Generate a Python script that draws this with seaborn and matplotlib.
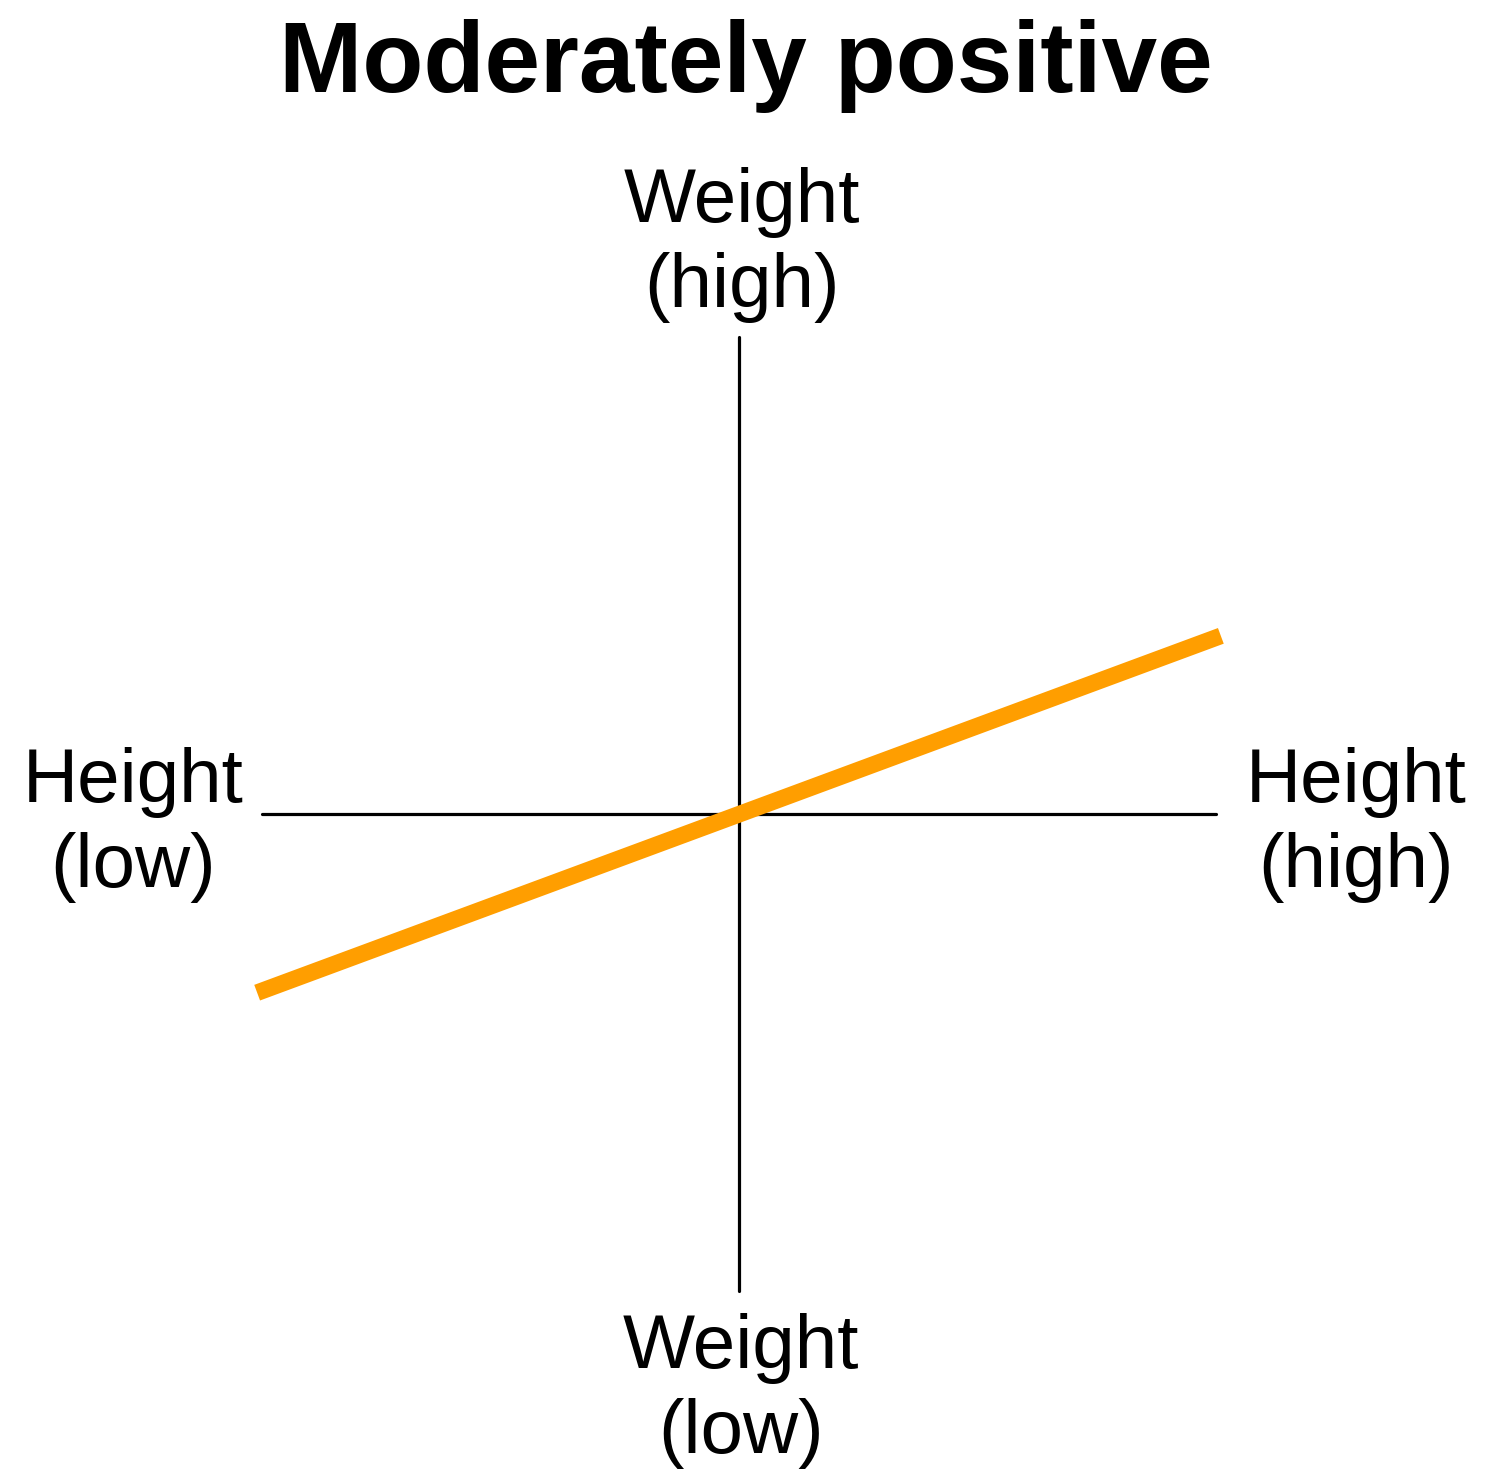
import matplotlib
matplotlib.use("Agg")
import matplotlib.pyplot as plt
import seaborn as sns
import pandas as pd

# dados do diagrama
altura = [-1.01, 1.01]          # Height (eixo x)
peso = [-0.375, 0.373]          # Weight (eixo y)
eixo_h_x = [-1.0, 1.0]
eixo_v_y = [-1.0, 1.0]

titulo = "Moderately positive"
rotulo_cima = "Weight\n(high)"
rotulo_baixo = "Weight\n(low)"
rotulo_esq = "Height\n(low)"
rotulo_dir = "Height\n(high)"

sns.set_style("white")
plt.rcParams['font.family'] = ['Liberation Sans', 'DejaVu Sans']
plt.rcParams['text.color'] = 'black'

fig = plt.figure(figsize=(14.88, 14.84), dpi=100)
ax = fig.add_axes([0, 0, 1, 1])
ax.set_xlim(-1.549, 1.570)
ax.set_ylim(-1.405, 1.706)

# eixos em cruz
ax.plot(eixo_h_x, [0, 0], color='black', lw=2.3)
ax.plot([0, 0], eixo_v_y, color='black', lw=2.3)

# linha de correlacao
df = pd.DataFrame({'Height': altura, 'Weight': peso})
sns.lineplot(data=df, x='Height', y='Weight', ax=ax, color='#FF9E00',
             lw=12, solid_capstyle='butt')
ax.axis('off')

fs = 55
ls = 1.25
ax.text(0.006, 1.193, rotulo_cima, ha='center', va='center', fontsize=fs, linespacing=ls)
ax.text(0.004, -1.21, rotulo_baixo, ha='center', va='center', fontsize=fs, linespacing=ls)
ax.text(-1.27, -0.023, rotulo_esq, ha='center', va='center', fontsize=fs, linespacing=ls)
ax.text(1.293, -0.023, rotulo_dir, ha='center', va='center', fontsize=fs, linespacing=ls)

ax.text(0.015, 1.514, titulo, ha='center', va='baseline', fontsize=72,
        fontweight='bold')

fig.savefig('out.png', dpi=100)
